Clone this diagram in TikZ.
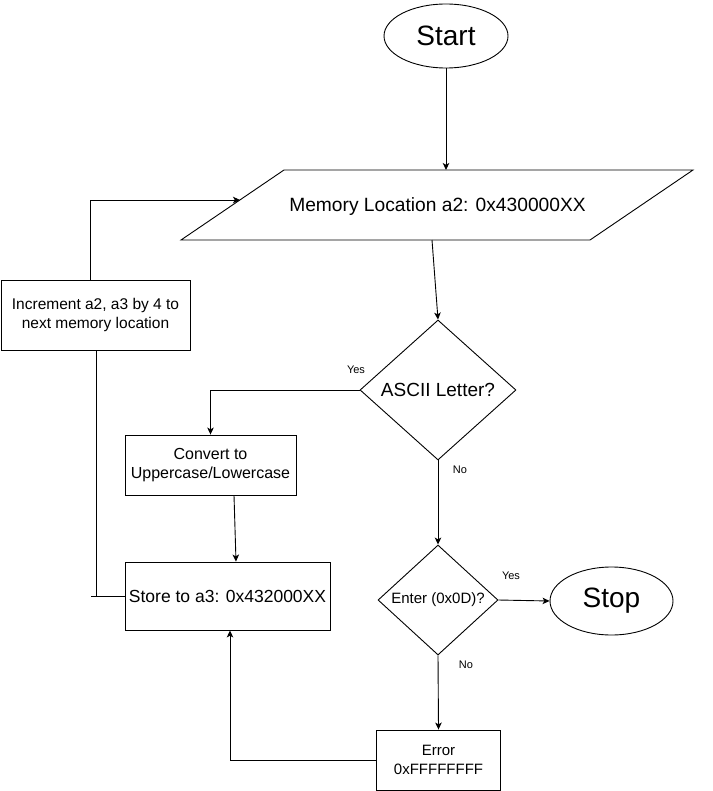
\documentclass[tikz,border=0pt]{standalone}
\usepackage{fontspec}
\setmainfont{Liberation Sans}
\usetikzlibrary{shapes.geometric,arrows.meta}
\begin{document}
\begin{tikzpicture}[x=1pt,y=-1pt,line width=0.9pt,
  every node/.style={inner sep=0pt,align=center},
  term/.style={draw,ellipse,inner sep=0pt,font=\fontsize{28}{32}\selectfont},
  proc/.style={draw,rectangle},
  dec/.style={draw,diamond,inner sep=0pt},
  lab/.style={font=\fontsize{11}{13}\selectfont},
  arr/.style={-{Stealth[length=7pt,width=6.5pt,inset=1.8pt]}}]
\useasboundingbox (0,0) rectangle (712,791);
% nodes
\node[term,minimum width=124pt,minimum height=64pt] (start) at (446,36) {Start};
\coordinate (memTL) at (284,170);
\coordinate (memTR) at (693,170);
\coordinate (memBR) at (590,240);
\coordinate (memBL) at (181,240);
\draw (memTL) -- (memTR) -- (memBR) -- (memBL) -- cycle;
\node[font=\fontsize{19.2}{23}\selectfont] (mem) at (437.5,207) {Memory Location a2: 0x430000XX};
\coordinate (memin) at (446,170);
\coordinate (memleft) at (240,200);
\coordinate (memout) at (432,240);
\node[proc,minimum width=189pt,minimum height=70pt,font=\fontsize{15.5}{19}\selectfont] (inc) at (95.5,315) {Increment a2, a3 by 4 to\\next memory location};
\node[dec,minimum width=156pt,minimum height=140pt,font=\fontsize{19}{22}\selectfont] (ascii) at (438,390) {ASCII Letter?};
\node[proc,minimum width=171pt,minimum height=60pt,font=\fontsize{16}{19}\selectfont] (conv) at (210.5,465) {Convert to\\Uppercase/Lowercase};
\node[proc,minimum width=205pt,minimum height=68pt,font=\fontsize{17.5}{21}\selectfont] (store) at (227.5,596) {Store to a3: 0x432000XX};
\node[dec,minimum width=120pt,minimum height=110pt,aspect=1.09,font=\fontsize{15}{18}\selectfont] (enter) at (438,600) {Enter (0x0D)?};
\node[term,minimum width=123pt,minimum height=68pt] (stop) at (611.5,601) {Stop};
\node[proc,minimum width=124pt,minimum height=60pt,font=\fontsize{15}{19}\selectfont] (err) at (438.5,760) {Error\\0xFFFFFFFF};
% labels
\node[lab] (yes1) at (356,370) {Yes};
\node[lab] (no1) at (460,470) {No};
\node[lab] (yes2) at (511,576) {Yes};
\node[lab] (no2) at (466,665) {No};
% connectors
\draw[arr] (start) -- (memin);
\draw[arr] ([xshift=-5.5pt]inc.north) |- (memleft);
\draw[arr] (memout) -- (ascii.north);
\draw[arr] (ascii.west) -| (conv.north);
\draw[arr] ([xshift=23.5pt]conv.south) -- ([xshift=8.5pt]store.north);
\draw[arr] (ascii.south) -- (enter.north);
\draw[arr] (enter.east) -- (stop.west);
\draw[arr] (enter.south) -- (err.north);
\draw[arr] (err.west) -| ([xshift=2.5pt]store.south);
\draw ([xshift=0.5pt]inc.south) |- (store.west);
\draw (store.west) -- ++(-34,0);
\end{tikzpicture}
\end{document}
